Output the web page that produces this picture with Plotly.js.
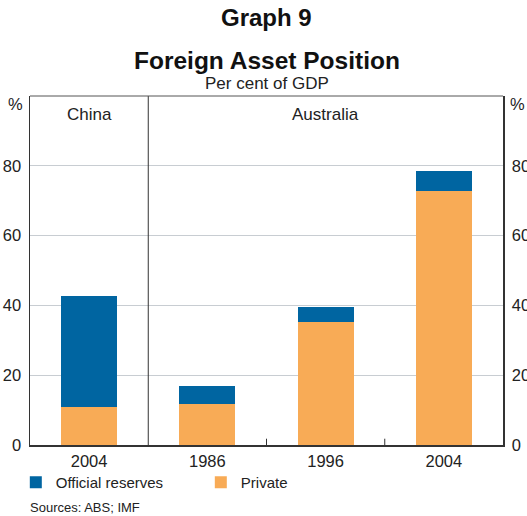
<!DOCTYPE html>
<html>
<head>
<meta charset="utf-8">
<script src="https://cdn.plot.ly/plotly-3.0.1.min.js"></script>
<style>
html,body{margin:0;padding:0;background:#fff;}
#chart{width:527px;height:516px;}
</style>
</head>
<body>
<div id="chart"></div>
<script>
// Data
const categories = ["2004", "1986", "1996", "2004"];
const panels = ["China", "Australia", "Australia", "Australia"];
const privateVals = [11.0, 11.8, 35.3, 72.8];
const officialVals = [31.7, 5.1, 4.3, 5.8];
const yTicks = [0, 20, 40, 60, 80];

const idx = categories.map((_, i) => i);
const FONT = "Liberation Sans, Arial, Helvetica, sans-serif";
const BLUE = "#0065a1";
const ORANGE = "#f8ab56";
const AXIS = "#333333";

const official = {type: "bar", name: "Official reserves", x: idx, y: officialVals, marker: {color: BLUE}, hoverinfo: "y", legendrank: 1};
const priv = {type: "bar", name: "Private", x: idx, y: privateVals, marker: {color: ORANGE}, hoverinfo: "y", legendrank: 2};
const dummy = {type: "scatter", x: [0], y: [0], yaxis: "y2", mode: "none", showlegend: false, hoverinfo: "skip"};
const ordered = [priv, official, dummy];

// panel split
const splitAt = [];
const tickAt = [];
for (let i = 1; i < panels.length; i++) {
  if (panels[i] !== panels[i - 1]) splitAt.push(i - 0.5);
  else tickAt.push(i - 0.5);
}

const shapes = [];
splitAt.forEach(x => shapes.push({type: "line", xref: "x", yref: "paper", x0: x, x1: x, y0: 0, y1: 1, line: {color: AXIS, width: 1}}));
tickAt.forEach(x => shapes.push({type: "line", xref: "x", yref: "paper", x0: x, x1: x, y0: 0, y1: 0.018, line: {color: AXIS, width: 1}}));
shapes.push({type: "line", xref: "paper", yref: "paper", x0: 0, x1: 1, y0: 1, y1: 1, line: {color: "#555", width: 1}});

// panel labels
const annotations = [];
const groups = {};
panels.forEach((p, i) => { (groups[p] = groups[p] || []).push(i); });
Object.keys(groups).forEach(p => {
  const g = groups[p];
  annotations.push({text: p, x: (g[0] + g[g.length - 1]) / 2, xref: "x", y: 0.946, yref: "paper", showarrow: false, font: {size: 17, color: "#222"}, xanchor: "center", yanchor: "middle"});
});
annotations.push(
  {text: "<b>Graph 9</b>", x: 0.5, xref: "paper", y: 1.225, yref: "paper", showarrow: false, font: {size: 24, color: "#111"}, yanchor: "middle"},
  {text: "<b>Foreign Asset Position</b>", x: 0.5, xref: "paper", y: 1.103, yref: "paper", showarrow: false, font: {size: 24.5, color: "#111"}, yanchor: "middle"},
  {text: "Per cent of GDP", x: 0.5, xref: "paper", y: 1.035, yref: "paper", showarrow: false, font: {size: 17, color: "#222"}, yanchor: "middle"},
  {text: "%", x: -0.03, xref: "paper", y: 0.977, yref: "paper", showarrow: false, font: {size: 16.5, color: "#222"}, xanchor: "center", yanchor: "middle"},
  {text: "%", x: 1.03, xref: "paper", y: 0.977, yref: "paper", showarrow: false, font: {size: 16.5, color: "#222"}, xanchor: "center", yanchor: "middle"},
  {text: "Sources: ABS; IMF", x: -0.004, xref: "paper", y: -0.178, yref: "paper", showarrow: false, font: {size: 13, color: "#222"}, xanchor: "left", yanchor: "middle"}
);

const layout = {
  width: 527, height: 516,
  margin: {l: 30, r: 24, t: 96, b: 71, autoexpand: false},
  paper_bgcolor: "#fff", plot_bgcolor: "#fff",
  font: {family: FONT, color: "#222"},
  barmode: "stack",
  bargap: 0.526,
  showlegend: true,
  legend: {orientation: "h", x: -0.03, y: -0.06, xanchor: "left", yanchor: "top", font: {size: 15, color: "#222"}, traceorder: "normal", entrywidth: 140, entrywidthmode: "pixels", itemwidth: 30, bgcolor: "rgba(0,0,0,0)"},
  xaxis: {range: [-0.5, categories.length - 0.5], tickvals: idx, ticktext: categories, ticks: "", showgrid: false, zeroline: false, showline: true, linecolor: AXIS, linewidth: 2, tickfont: {size: 16.5, color: "#222"}, fixedrange: true, automargin: false},
  yaxis: {range: [0, 100], tickvals: yTicks, ticks: "", showgrid: true, gridcolor: "#c8cdd2", gridwidth: 1, zeroline: false, showline: true, linecolor: AXIS, linewidth: 1.5, tickfont: {size: 16.5, color: "#222"}, ticklabelstandoff: 4, fixedrange: true, automargin: false},
  yaxis2: {range: [0, 100], tickvals: yTicks, overlaying: "y", side: "right", ticks: "", showgrid: false, zeroline: false, showline: true, linecolor: AXIS, linewidth: 1.5, tickfont: {size: 16.5, color: "#222"}, ticklabelstandoff: 4, fixedrange: true, automargin: false},
  shapes: shapes,
  annotations: annotations
};

Plotly.newPlot("chart", ordered, layout, {displayModeBar: false, staticPlot: true});
</script>
</body>
</html>
